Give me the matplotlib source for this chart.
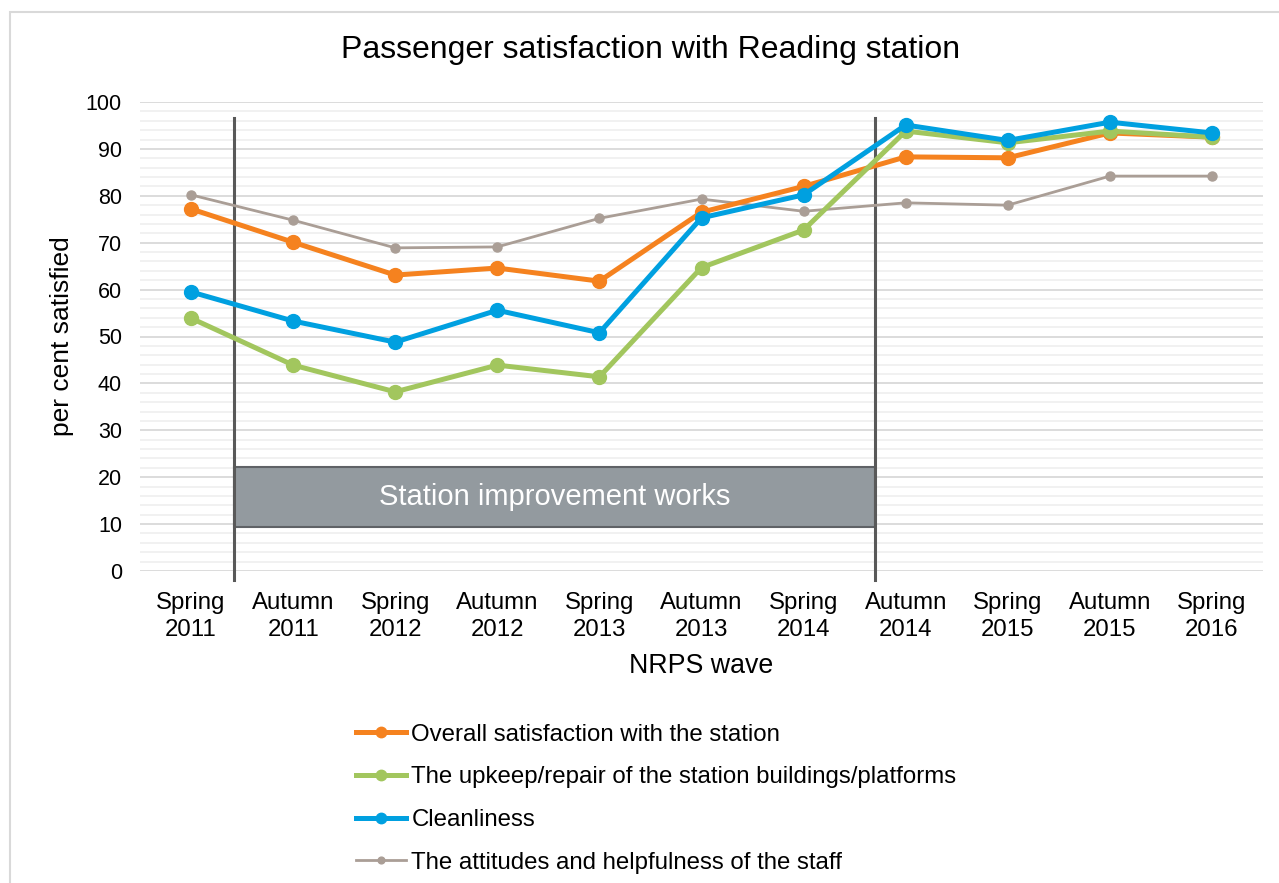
import matplotlib
matplotlib.use("Agg")
import matplotlib.pyplot as plt
import matplotlib.patches as mpatches
import numpy as np

plt.rcParams["font.family"] = ["Liberation Sans", "DejaVu Sans"]

# -----------------------------------------------------------------------------
# Data
# -----------------------------------------------------------------------------
waves = ["Spring\n2011", "Autumn\n2011", "Spring\n2012", "Autumn\n2012",
         "Spring\n2013", "Autumn\n2013", "Spring\n2014", "Autumn\n2014",
         "Spring\n2015", "Autumn\n2015", "Spring\n2016"]

overall     = [77.2, 70.1, 63.1, 64.6, 61.8, 76.5, 82.0, 88.3, 88.1, 93.4, 92.5]
upkeep      = [53.9, 43.9, 38.2, 43.9, 41.4, 64.7, 72.7, 93.8, 91.3, 93.8, 92.5]
cleanliness = [59.5, 53.3, 48.8, 55.6, 50.8, 75.3, 80.2, 95.1, 91.8, 95.7, 93.4]
staff       = [80.2, 74.8, 68.9, 69.1, 75.2, 79.3, 76.7, 78.5, 78.0, 84.2, 84.2]

labels = ["Overall satisfaction with the station",
          "The upkeep/repair of the station buildings/platforms",
          "Cleanliness",
          "The attitudes and helpfulness of the staff"]

# improvement works period (between waves) and box extent in % units
works_start, works_end = 0.42, 6.70
box_low, box_high = 9.4, 22.2

# -----------------------------------------------------------------------------
# Plot
# -----------------------------------------------------------------------------
fig = plt.figure(figsize=(12.79, 8.83), dpi=100)
ax = fig.add_axes([140 / 1279, 1 - 571 / 883, 1123 / 1279, 469 / 883])

# outer chart frame
fig.patches.append(mpatches.Rectangle((10 / 1279, -0.05), 1.1, 1 - 12 / 883 + 0.05,
                                      transform=fig.transFigure, fill=False,
                                      edgecolor="#d9d9d9", lw=1.5, zorder=0))

x = np.arange(len(waves))
ax.set_xlim(-0.5, len(waves) - 0.5)
ax.set_ylim(0, 100)
ax.set_yticks(np.arange(0, 101, 10))
ax.set_yticks(np.arange(0, 101, 2), minor=True)
ax.grid(axis="y", which="minor", color="#f0f0f0", lw=1.3, zorder=0)
ax.grid(axis="y", which="major", color="#d9d9d9", lw=1.3, zorder=0)
ax.tick_params(axis="both", which="both", length=0)
ax.tick_params(axis="y", labelsize=15.5, pad=13)
ax.tick_params(axis="x", labelsize=17.3, pad=15)
ax.set_xticks(x)
ax.set_xticklabels(waves, linespacing=1.28)
for s in ax.spines.values():
    s.set_visible(False)

# works box and markers
ax.add_patch(mpatches.Rectangle((works_start, box_low), works_end - works_start,
                                box_high - box_low, facecolor="#939a9f",
                                edgecolor="#5f6266", lw=1.5, zorder=2))
ax.text((works_start + works_end) / 2, (box_low + box_high) / 2,
        "Station improvement works", color="white", fontsize=21,
        ha="center", va="center", zorder=3)
for xv in (works_start, works_end):
    ax.plot([xv, xv], [-2, 96.6], color="#595959", lw=2.2, clip_on=False, zorder=2)

ax.plot(x, staff, color="#aa9e96", lw=2.0, marker="o", ms=6.5, zorder=4, label=labels[3])
ax.plot(x, overall, color="#f5821f", lw=3.6, marker="o", ms=10, zorder=5, label=labels[0])
ax.plot(x, upkeep, color="#a2c65e", lw=3.6, marker="o", ms=10, zorder=5, label=labels[1])
ax.plot(x, cleanliness, color="#00a0e0", lw=3.6, marker="o", ms=10, zorder=6, label=labels[2])

ax.set_ylabel("per cent satisfied", fontsize=19)
ax.yaxis.set_label_coords(-66 / 1123, 0.5)
ax.set_xlabel("NRPS wave", fontsize=19.3, labelpad=9)

fig.text(651 / 1279, 1 - 50 / 883, "Passenger satisfaction with Reading station",
         fontsize=23, ha="center", va="center")

handles, labs = ax.get_legend_handles_labels()
order = [1, 2, 3, 0]
fig.legend([handles[i] for i in order], [labs[i] for i in order],
           loc="upper left", bbox_to_anchor=(334 / 1279, 1 - 702 / 883),
           frameon=False, fontsize=17.3, handlelength=2.1, handletextpad=0.22,
           labelspacing=0.86, markerscale=0.75)

fig.savefig("out.png", dpi=100)
